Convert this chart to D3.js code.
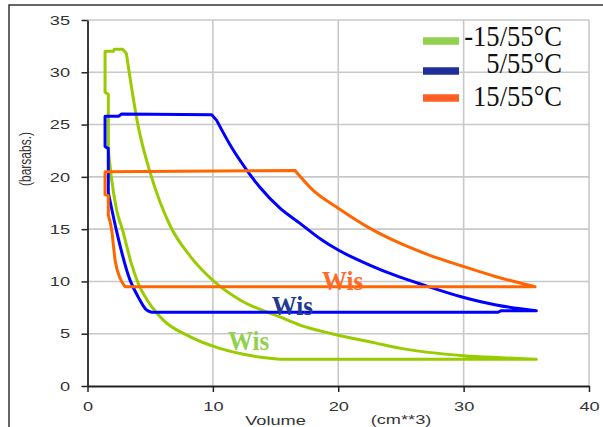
<!DOCTYPE html>
<html>
<head>
<meta charset="utf-8">
<script src="https://cdn.jsdelivr.net/npm/d3@7"></script>
<style>
  body { margin: 0; background: #fff; }
  svg { display: block; }
</style>
</head>
<body>
<div id="chart"></div>
<script>
// -15/55°C cycle : compression curve, discharge, re-expansion, suction
const volM15 = [35.8, 33, 30, 25, 23, 19.5, 17, 15.35, 12.2, 10.0, 8.2, 6.6, 5.0, 4.05, 3.3, 3.1, 2.8, 2.15, 2.05, 1.4,
  1.4, 1.66, 1.66, 1.93, 2.33, 2.8, 3.5, 4.05, 4.85, 6.05, 8.2, 10.55, 13.2, 15.35, 35.8];
const presM15 = [2.55, 2.7, 2.9, 3.6, 4.1, 5.0, 5.8, 6.6, 8.2, 10.1, 12.4, 15.3, 20.4, 24.8, 30.2, 31.8, 32.2, 32.2, 32.0, 32.0,
  28.1, 27.9, 22.6, 19.7, 16.8, 14.9, 11.7, 9.8, 8.06, 6.3, 4.7, 3.6, 2.87, 2.55, 2.55];

// 5/55°C
const vol5 = [35.8, 32.6, 29.8, 26.8, 24.5, 22.5, 20.0, 18.7, 16.95, 15.35, 13.75, 12.7, 11.5, 10.3, 9.9, 2.7, 2.5, 1.4,
  1.4, 1.66, 1.66, 2.3, 3.4, 4.05, 4.7, 5.1, 32.75, 33, 35.8];
const pres5 = [7.2, 7.75, 8.54, 9.66, 10.6, 11.57, 13.0, 13.96, 15.55, 17.0, 19.0, 20.65, 22.8, 25.4, 25.95, 26.0, 25.8, 25.8,
  22.9, 22.7, 18.5, 14.9, 10.1, 8.5, 7.27, 7.05, 7.05, 7.2, 7.2];

// 15/55°C
const vol15 = [35.7, 32.6, 29.8, 27.3, 24.65, 22.5, 20.0, 18.0, 16.55, 1.4,
  1.4, 1.66, 1.66, 1.93, 2.2, 2.6, 3.0, 35.7];
const pres15 = [9.5, 10.45, 11.5, 12.5, 13.8, 15.1, 17.0, 18.7, 20.6, 20.5,
  18.3, 18.2, 16.35, 14.9, 12.05, 10.3, 9.5, 9.5];

// index ranges drawn as smooth curves (compression / re-expansion)
const smoothM15 = [[0, 14], [22, 33]];
const smooth5 = [[0, 13], [20, 25]];
const smooth15 = [[0, 8], [12, 16]];

const seriesNames = ['-15/55°C', '5/55°C', '15/55°C'];
const xTicks = [0, 10, 20, 30, 40];
const yTicks = [0, 5, 10, 15, 20, 25, 30, 35];
// "Wis" label anchors (volume, pressure)
const wisVol = [11.2, 14.7, 18.7];
const wisPres = [3.44, 6.79, 9.18];

const lineColors = ['#99cc00', '#0000ff', '#ff6600'];
const legendColors = ['#92d050', '#1f2f9a', '#ff5f27'];
const wisColors = ['#92d050', '#1f3a93', '#ff6a2a'];

const W = 603, H = 427;
const svg = d3.select('#chart').append('svg')
  .attr('width', W)
  .attr('height', H);

// outer frame (left + top only)
svg.append('path')
  .attr('d', 'M9,427 L9,5 L603,5')
  .attr('fill', 'none')
  .attr('stroke', '#333')
  .attr('stroke-width', 1.5);

const x = d3.scaleLinear().domain([0, 40]).range([87.5, 589]);
const y = d3.scaleLinear().domain([0, 35]).range([386, 20]);

// grid
svg.append('g')
  .selectAll('line')
  .data(yTicks.slice(1))
  .enter().append('line')
  .attr('x1', x(0)).attr('x2', x(40))
  .attr('y1', d => y(d)).attr('y2', d => y(d))
  .attr('stroke', '#c8c8c8')
  .attr('stroke-width', 1.6);

svg.append('g')
  .selectAll('line')
  .data(xTicks.slice(1))
  .enter().append('line')
  .attr('x1', d => x(d)).attr('x2', d => x(d))
  .attr('y1', y(0)).attr('y2', y(35))
  .attr('stroke', '#c8c8c8')
  .attr('stroke-width', 1.6);

// axes
const yAxis = d3.axisLeft(y).tickValues(yTicks).tickSize(6).tickPadding(6.5).tickSizeOuter(0);
const xAxis = d3.axisBottom(x).tickValues(xTicks).tickSize(6).tickPadding(10).tickSizeOuter(0);

const gy = svg.append('g')
  .attr('transform', 'translate(' + x(0) + ',0)')
  .call(yAxis);
const gx = svg.append('g')
  .attr('transform', 'translate(0,' + y(0) + ')')
  .call(xAxis);

[gx, gy].forEach(g => {
  g.select('.domain').attr('stroke', '#222').attr('stroke-width', 1.8);
  g.selectAll('line').attr('stroke', '#222').attr('stroke-width', 1.5);
  g.selectAll('text')
    .attr('font-family', 'Liberation Sans, Arial, sans-serif')
    .attr('font-size', 13)
    .attr('fill', '#333')
    .attr('transform', 'scale(1.4,1)');
});

// axis titles
svg.append('text')
  .attr('transform', 'translate(31,159) scale(1.3,1) rotate(-90)')
  .attr('text-anchor', 'middle')
  .attr('font-family', 'Liberation Sans, Arial, sans-serif')
  .attr('font-size', 12)
  .attr('fill', '#333')
  .text('(barsabs.)');

svg.append('text')
  .attr('transform', 'translate(275.5,425) scale(1.4,1)')
  .attr('text-anchor', 'middle')
  .attr('font-family', 'Liberation Sans, Arial, sans-serif')
  .attr('font-size', 13)
  .attr('fill', '#333')
  .text('Volume');

svg.append('text')
  .attr('transform', 'translate(401,424) scale(1.4,1)')
  .attr('text-anchor', 'middle')
  .attr('font-family', 'Liberation Sans, Arial, sans-serif')
  .attr('font-size', 13)
  .attr('fill', '#333')
  .text('(cm**3)');

// cycles
const series = [
  { v: volM15, p: presM15, smooth: smoothM15 },
  { v: vol5, p: pres5, smooth: smooth5 },
  { v: vol15, p: pres15, smooth: smooth15 }
];

const straight = d3.line().x(d => x(d[0])).y(d => y(d[1]));
const curved = d3.line().x(d => x(d[0])).y(d => y(d[1])).curve(d3.curveMonotoneX);

function cyclePath(s) {
  const pts = s.v.map((v, i) => [v, s.p[i]]);
  let d = '';
  let pos = 0;
  s.smooth.forEach(r => {
    if (r[0] > pos) d += straight(pts.slice(pos, r[0] + 1));
    d += curved(pts.slice(r[0], r[1] + 1));
    pos = r[1];
  });
  if (pos < pts.length - 1) d += straight(pts.slice(pos));
  return d;
}

svg.append('g')
  .selectAll('path')
  .data(series)
  .enter().append('path')
  .attr('d', cyclePath)
  .attr('fill', 'none')
  .attr('stroke', (s, i) => lineColors[i])
  .attr('stroke-width', 3)
  .attr('stroke-linejoin', 'round')
  .attr('stroke-linecap', 'round');

// Wis labels
svg.append('g')
  .selectAll('text')
  .data(wisVol)
  .enter().append('text')
  .attr('transform', (d, i) => 'translate(' + x(d) + ',' + y(wisPres[i]) + ') scale(1,1.07)')
  .attr('font-family', 'Liberation Serif, Times New Roman, serif')
  .attr('font-weight', 'bold')
  .attr('font-size', 25)
  .attr('fill', (d, i) => wisColors[i])
  .text('Wis');

// legend
const legendY = [41, 71, 98];
const legendBase = [45.5, 73, 106];
const lg = svg.append('g');
lg.selectAll('line')
  .data(seriesNames)
  .enter().append('line')
  .attr('x1', 423).attr('x2', 459)
  .attr('y1', (d, i) => legendY[i]).attr('y2', (d, i) => legendY[i])
  .attr('stroke', (d, i) => legendColors[i])
  .attr('stroke-width', 7.5);

lg.selectAll('text')
  .data(seriesNames)
  .enter().append('text')
  .attr('transform', (d, i) => 'translate(562,' + legendBase[i] + ') scale(1,1.08)')
  .attr('text-anchor', 'end')
  .attr('font-family', 'Liberation Serif, Times New Roman, serif')
  .attr('font-size', 26.6)
  .attr('fill', '#111')
  .text(d => d);
</script>
</body>
</html>
